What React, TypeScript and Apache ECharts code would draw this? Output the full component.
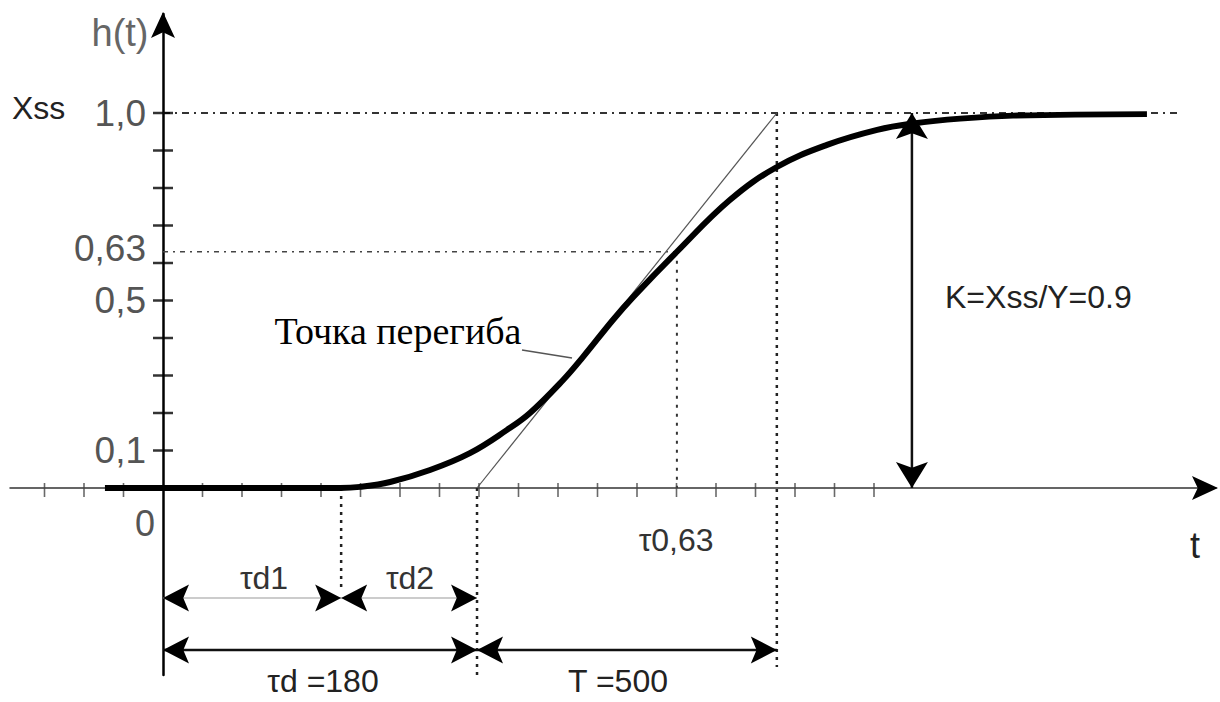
import React, { useEffect, useRef } from "react";
import * as echarts from "echarts";

// ---- data (schematic time units: one x-tick = 1 unit; h in fractions of Xss) ----
const curveT = [-1.47, 1.19, 4.48, 4.99, 5.75, 6.76, 7.77, 8.71, 9.29, 10.13, 10.63, 11.39, 11.9, 13.01, 14.35, 15.54, 16.81, 18.08, 18.99, 20.18, 21.52, 24.91];
const curveH = [0, 0, 0, 0.003, 0.016, 0.048, 0.093, 0.155, 0.2, 0.288, 0.349, 0.448, 0.509, 0.63, 0.768, 0.856, 0.915, 0.955, 0.972, 0.985, 0.993, 0.997];

const tD1 = 4.51; // end of τd1
const tD = 7.95; // τd = 180
const t063 = 13.01; // τ0,63
const tT = 15.54; // τd + T
const tK = 18.96; // K arrow
const hSS = 1.0;
const h063 = 0.63;

const yTickValues = [0.1, 0.2, 0.3, 0.4, 0.5, 0.6, 0.7, 0.8, 0.9, 1.0];
const xTickValues = [-3, -2, -1, 1, 2, 3, 4, 5, 6, 7, 8, 9, 10, 11, 12, 13, 14, 15, 16, 17, 18];

const yLabelTexts = ["0,1", "0,5", "0,63", "1,0"];
const yLabelValues = [0.1, 0.5, 0.64, 1.0];

// ---- layout (pixels) ----
const W = 1220;
const H = 702;
const PX0 = 163; // pixel x of t = 0
const PY0 = 488; // pixel y of h = 0
const SX = 39.5; // px per x unit
const SY = 375; // px per h unit
const G_LEFT = 10;
const G_RIGHT = 1216;
const G_TOP = 14;
const G_BOTTOM = 675;
const XMIN = (G_LEFT - PX0) / SX;
const XMAX = (G_RIGHT - PX0) / SX;
const YMAX = (PY0 - G_TOP) / SY;
const YMIN = (PY0 - G_BOTTOM) / SY;
const ux = (px: number) => (px - PX0) / SX;
const vy = (py: number) => (PY0 - py) / SY;

const ROW1 = vy(598);
const ROW2 = vy(650);

const SANS = '"Liberation Sans", Arial, sans-serif';
const SERIF = '"Liberation Serif", "Times New Roman", serif';

type Ann = { text: string; t: number; h: number; size: number; color: string; align: string; family?: string };
const annotations: Ann[] = [
  { text: "h(t)", t: ux(120), h: vy(33), size: 38, color: "#666", align: "center" },
  { text: "Xss", t: ux(12), h: vy(108), size: 32, color: "#222", align: "left" },
  ...yLabelTexts.map((s, i) => ({ text: s, t: ux(146), h: yLabelValues[i], size: 37, color: "#555", align: "right" })),
  { text: "0", t: ux(145), h: vy(523), size: 36, color: "#555", align: "center" },
  { text: "t", t: ux(1195), h: vy(545), size: 36, color: "#222", align: "center" },
  { text: "τ0,63", t: t063 - 0.02, h: vy(540), size: 32, color: "#333", align: "center" },
  { text: "τd1", t: ux(264), h: vy(578), size: 32, color: "#333", align: "center" },
  { text: "τd2", t: ux(410), h: vy(578), size: 32, color: "#333", align: "center" },
  { text: "τd =180", t: ux(323), h: vy(681), size: 32, color: "#222", align: "center" },
  { text: "T =500", t: ux(618), h: vy(681), size: 32, color: "#222", align: "center" },
  { text: "K=Xss/Y=0.9", t: ux(945), h: vy(297), size: 32, color: "#222", align: "left" },
  { text: "Точка перегиба", t: ux(398), h: vy(331), size: 38, color: "#000", align: "center", family: SERIF },
];

// arrow heads: [t, h, direction (deg, 0 = right, 90 = up), kind]
const arrowHeads = [
  [ux(1218), 0, 0, 0],
  [0, vy(12), 90, 0],
  [0, ROW1, 180, 1],
  [tD1, ROW1, 0, 1],
  [tD1, ROW1, 180, 1],
  [tD, ROW1, 0, 1],
  [0, ROW2, 180, 1],
  [tD, ROW2, 0, 1],
  [tD, ROW2, 180, 1],
  [tT, ROW2, 0, 1],
  [tK, hSS, 90, 2],
  [tK, 0, 270, 2],
];
const arrowKinds = [
  { L: 26, Wd: 24 },
  { L: 26, Wd: 27 },
  { L: 26, Wd: 32 },
];

function seg(a: number[], b: number[]) {
  return [a, b];
}

export default function App() {
  const ref = useRef<HTMLDivElement>(null);
  useEffect(() => {
    if (!ref.current) return;
    const chart = echarts.init(ref.current, undefined, { renderer: "svg" });

    const lineSeries = (data: number[][], color: string, width: number, type: any = "solid", z = 3) => ({
      type: "line",
      data,
      showSymbol: false,
      symbol: "none",
      clip: false,
      silent: true,
      z,
      lineStyle: { color, width, type, cap: "butt" },
    });

    const option: any = {
      animation: false,
      backgroundColor: "#fff",
      grid: { left: G_LEFT, right: W - G_RIGHT, top: G_TOP, bottom: H - G_BOTTOM, containLabel: false },
      xAxis: {
        type: "value",
        min: XMIN,
        max: XMAX,
        axisLine: { show: true, onZero: true, lineStyle: { color: "#333", width: 1.5 } },
        axisTick: { show: false },
        axisLabel: { show: false },
        splitLine: { show: false },
      },
      yAxis: {
        type: "value",
        min: YMIN,
        max: YMAX,
        axisLine: { show: true, onZero: true, lineStyle: { color: "#000", width: 2.5 } },
        axisTick: { show: false },
        axisLabel: { show: false },
        splitLine: { show: false },
      },
      series: [
        // guide lines
        lineSeries(seg([0, hSS], [ux(1180), hSS]), "#333", 2, [7, 5, 2, 5]),
        lineSeries(seg([0, h063], [t063, h063]), "#444", 1.5, [5, 5, 2, 5]),
        lineSeries(seg([tD1, 0], [tD1, vy(590)]), "#222", 2.5, [3, 5]),
        lineSeries(seg([tD, 0], [tD, vy(675)]), "#222", 2.5, [3, 5]),
        lineSeries(seg([t063, h063], [t063, 0]), "#333", 2, [3, 6]),
        lineSeries(seg([tT, hSS], [tT, vy(667)]), "#222", 2.5, [3, 5]),
        // tangent
        lineSeries(seg([tD, 0], [tT, hSS]), "#555", 1.2),
        // leader
        lineSeries(seg([ux(522), vy(350)], [ux(572), vy(358)]), "#555", 1.5),
        // dimension lines
        lineSeries(seg([0, ROW1], [tD, ROW1]), "#999", 1.2),
        lineSeries(seg([0, ROW2], [tT, ROW2]), "#111", 2.5),
        lineSeries(seg([tK, 0], [tK, hSS]), "#111", 2.5),
        // step response curve
        {
          type: "line",
          data: curveT.map((t, i) => [t, curveH[i]]),
          smooth: 0.4,
          showSymbol: false,
          symbol: "none",
          clip: false,
          z: 5,
          lineStyle: { color: "#000", width: 6, join: "round" },
        },
        // y ticks
        {
          type: "scatter",
          data: yTickValues.map((v) => [0, v]),
          symbol: "rect",
          symbolSize: [20, 2.5],
          itemStyle: { color: "#000" },
          silent: true,
          z: 4,
        },
        // x ticks
        {
          type: "scatter",
          data: xTickValues.map((t) => [t, 0]),
          symbol: "rect",
          symbolSize: [1.6, 14],
          symbolOffset: [0, 2],
          itemStyle: { color: "#444" },
          silent: true,
          z: 4,
        },
        // arrow heads
        {
          type: "custom",
          data: arrowHeads,
          encode: { x: 0, y: 1 },
          silent: true,
          z: 6,
          renderItem: (params: any, api: any) => {
            const p = api.coord([api.value(0), api.value(1)]);
            const ang = (api.value(2) * Math.PI) / 180;
            const k = arrowKinds[api.value(3)];
            const dx = Math.cos(ang), dy = -Math.sin(ang);
            const nx = -dy, ny = dx;
            const pt = (a: number, b: number) => [p[0] + a * dx + b * nx, p[1] + a * dy + b * ny];
            return {
              type: "polygon",
              shape: { points: [pt(0, 0), pt(-k.L, k.Wd / 2), pt(-k.L * 0.78, 0), pt(-k.L, -k.Wd / 2)] },
              style: { fill: "#000" },
            };
          },
        },
        // texts
        {
          type: "custom",
          data: annotations.map((a) => [a.t, a.h]),
          encode: { x: 0, y: 1 },
          silent: true,
          z: 7,
          renderItem: (params: any, api: any) => {
            const a = annotations[params.dataIndex];
            const p = api.coord([api.value(0), api.value(1)]);
            return {
              type: "text",
              x: p[0],
              y: p[1],
              style: {
                text: a.text,
                fill: a.color,
                font: `${a.size}px ${a.family || SANS}`,
                align: a.align,
                verticalAlign: "middle",
              },
            };
          },
        },
      ],
    };
    chart.setOption(option);
    return () => chart.dispose();
  }, []);
  return <div ref={ref} style={{ position: "absolute", left: 0, top: 0, width: W, height: H, background: "#fff" }} />;
}
